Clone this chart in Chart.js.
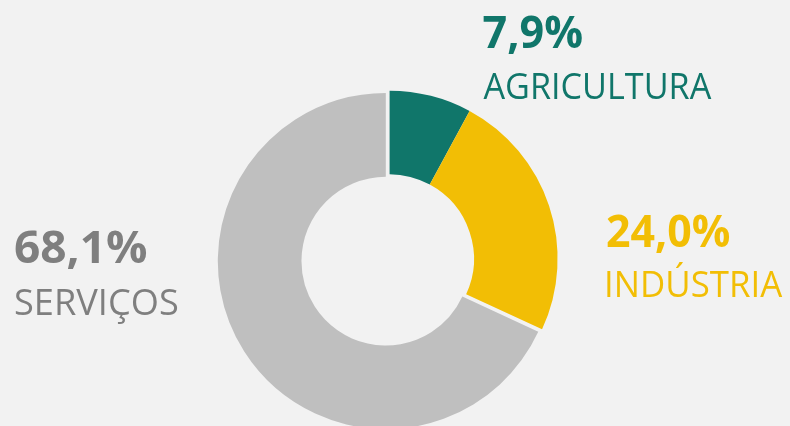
<!DOCTYPE html>
<html><head><meta charset="utf-8">
<script src="https://cdn.jsdelivr.net/npm/chart.js@4"></script>
<style>html,body{margin:0;padding:0;background:#f2f2f2;}</style>
</head><body>
<canvas id="c" width="790" height="426"></canvas>
<script>
const categories = ['AGRICULTURA', 'INDÚSTRIA', 'SERVIÇOS'];
const shares = [7.9, 24.0, 68.1];
const valueLabels = ['7,9%', '24,0%', '68,1%'];
const sliceColors = ['#10766A', '#F2BE05', '#BFBFBF'];
const textColors = ['#10766A', '#F2BE05', '#7F7F7F'];
const explodeShift = [0, 0, 4.5];

// label layout (left ink x, baselines, target ink widths)
const labelLayout = [
  {x: 483.5, vBase: 48, vW: 99, nBase: 99.3, nW: 228},
  {x: 607, vBase: 246.7, vW: 123, nBase: 296.7, nW: 175.4},
  {x: 15, vBase: 263.3, vW: 132, nBase: 315, nW: 163}
];

function drawFit(ctx, text, font, color, x, base, w) {
  ctx.save();
  ctx.font = font;
  ctx.fillStyle = color;
  ctx.textBaseline = 'alphabetic';
  ctx.textAlign = 'left';
  const m = ctx.measureText(text);
  const inkW = m.actualBoundingBoxLeft + m.actualBoundingBoxRight;
  const s = w / inkW;
  ctx.translate(x, base);
  ctx.scale(s, 1);
  ctx.fillText(text, m.actualBoundingBoxLeft, 0);
  ctx.restore();
}

const explodePlugin = {
  id: 'explode',
  beforeDatasetDraw(chart, args) {
    const ctx = chart.ctx;
    args.meta.data.forEach((arc, i) => {
      ctx.save();
      const sh = explodeShift[i] || 0;
      if (sh) {
        const mid = (arc.startAngle + arc.endAngle) / 2;
        ctx.translate(Math.cos(mid) * sh, Math.sin(mid) * sh);
      }
      arc.draw(ctx);
      ctx.restore();
    });
    return false;
  }
};

const labelPlugin = {
  id: 'sideLabels',
  afterDraw(chart) {
    const ctx = chart.ctx;
    categories.forEach((name, i) => {
      const L = labelLayout[i];
      drawFit(ctx, valueLabels[i], 'bold 45px "Open Sans"', textColors[i], L.x, L.vBase, L.vW);
      drawFit(ctx, name, '36px "Open Sans"', textColors[i], L.x, L.nBase, L.nW);
    });
  }
};

new Chart(document.getElementById('c'), {
  type: 'doughnut',
  data: {
    labels: categories,
    datasets: [{
      data: shares,
      backgroundColor: sliceColors,
      borderWidth: 0,
      clip: false
    }]
  },
  options: {
    responsive: false,
    animation: false,
    radius: 168,
    cutout: 84,
    layout: {padding: {left: 0, right: 10.8, top: 91.4, bottom: 0}},
    plugins: {legend: {display: false}, tooltip: {enabled: false}}
  },
  plugins: [explodePlugin, labelPlugin]
});
</script>
</body></html>
